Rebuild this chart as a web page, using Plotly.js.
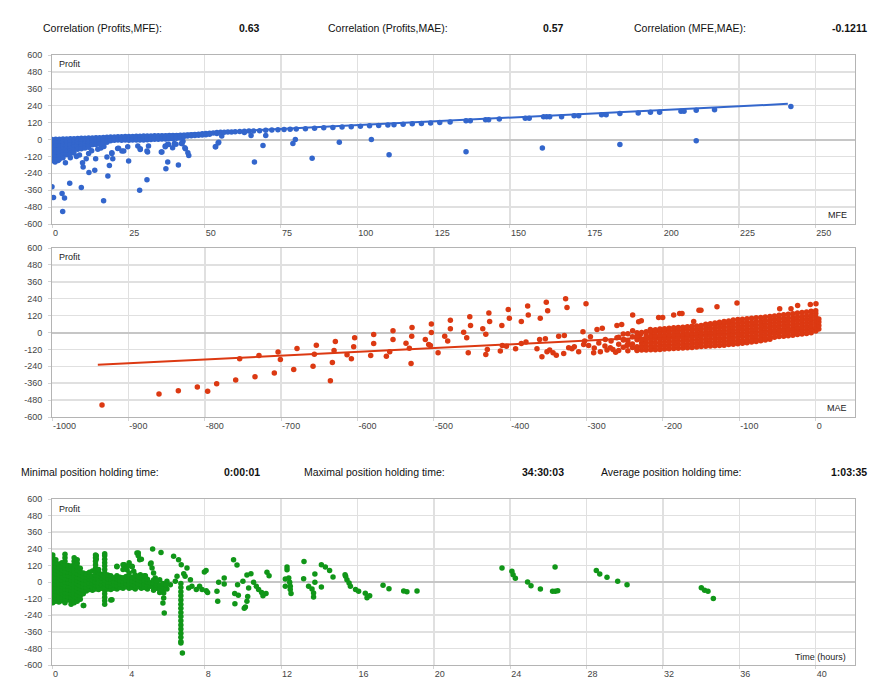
<!DOCTYPE html>
<html>
<head>
<meta charset="utf-8">
<script src="https://cdn.plot.ly/plotly-3.0.1.min.js"></script>
<style>
  html, body { margin: 0; padding: 0; background: #fff; }
  #chart { width: 883px; height: 697px; }
</style>
</head>
<body>
<div id="chart"></div>
<script>
// ---- axis ticks (labels use a plain hyphen like the source) ----
var profitTicks = [-600, -480, -360, -240, -120, 0, 120, 240, 360, 480, 600];
var profitTickText = ['-600', '-480', '-360', '-240', '-120', '0', '120', '240', '360', '480', '600'];
var mfeTicks = [0, 25, 50, 75, 100, 125, 150, 175, 200, 225, 250];
var maeTicks = [-1000, -900, -800, -700, -600, -500, -400, -300, -200, -100, 0];
var maeTickText = ['-1000', '-900', '-800', '-700', '-600', '-500', '-400', '-300', '-200', '-100', '0'];
var timeTicks = [0, 4, 8, 12, 16, 20, 24, 28, 32, 36, 40];

// ---- MFE vs Profit (top panel) ----
// dense cluster near the origin, read column by column: [MFE, [profits]]
var mfeBand = [
  [0, [0, -25, -50, -75, -100, -125, -150]],
  [1.2, [2, -22, -48, -72, -98, -122, -145]],
  [2.4, [2, -20, -45, -70, -95, -118, -140]],
  [3.6, [3, -20, -42, -65, -88, -112, -130]],
  [4.8, [4, -18, -40, -62, -85, -108]],
  [6, [5, -16, -38, -60, -80, -100]],
  [7.2, [6, -15, -35, -55, -75, -95]],
  [8.4, [7, -14, -34, -52, -70]],
  [9.6, [8, -12, -30, -48, -66]],
  [10.8, [9, -10, -28, -45, -60]],
  [12, [10, -8, -25, -42, -55]],
  [13.2, [11, -6, -22, -38]],
  [14.4, [12, -5, -20, -35]],
  [15.6, [13, -3, -18, -30]],
  [16.8, [14, -2, -15, -26]],
  [18, [16, 0, -12, -20]],
  [19.2, [17, 2, -8]],
  [20.4, [18, 4, -5]],
  [21.6, [19, 6, -4]],
  [22.8, [20, 8, -5]],
  [24, [21, 8, -4]],
  [25.2, [22, 9, -5]],
  [26.4, [22, 9, -4]],
  [27.6, [23, 10, -3]],
  [28.8, [23, 10, -4]],
  [30, [24, 11, -3]],
  [31.2, [25, 12, -1]],
  [32.4, [25, 13, 0]],
  [33.6, [26, 14, 1]],
  [34.8, [26, 14, 2]],
  [36, [27, 15, 3]],
  [37.2, [27, 16, 4]],
  [38.4, [28, 17, 5]],
  [39.6, [28, 17, 6]],
  [40.8, [29, 18, 8]],
  [42, [30, 20, 10]],
  [43.2, [31, 22]],
  [44.4, [32, 24]],
  [45.6, [34, 26]],
  [46.8, [36, 28]],
  [48, [38, 30]],
  [49.2, [40, 32]],
  [50.4, [42, 34]],
  [51.6, [44, 37]],
  [52.8, [47]],
  [54, [49, 42]],
  [55.2, [51]],
  [56.4, [52]],
  [57.6, [53]],
  [58.8, [54]],
  [60, [55]],
  [61.5, [57]],
  [63, [58, 50]],
  [64.5, [60]],
  [66, [61]],
  [68, [63]],
  [70, [65]],
  [72, [67]],
  [74, [69]],
  [76, [71]],
  [78, [73]],
  [80, [74]],
  [83, [77]],
  [86, [80]],
  [89, [83]],
  [92, [86]],
  [95, [89]],
  [98, [91]],
  [101, [94]],
  [104, [97]],
  [107, [100]],
  [110, [103]],
  [112, [105]],
  [115, [108]],
  [118, [111]],
  [121, [114]],
  [124, [117]],
  [127, [120]]
];
var mfeX = [0, 0.5, 3.3, 4.1, 3.5, 5.8, 9.6, 4.4, 10, 10.2, 12.1, 14, 14.3, 11.2, 16.9, 18.3, 18.8, 18, 19.9, 19.6,
  21.5, 23.5, 25.1, 28.7, 31.1, 28.9, 31.3, 35.8, 37.3, 37.9, 41.4, 37.1, 37.9, 39.5, 40.6, 42.6, 43.7, 44.8, 42.9,
  53.6, 54.6, 55.6, 66.3, 69.1, 70, 65.2, 78.9, 79.7, 85.2, 94.1, 104.6, 110.4,
  19.6, 21.8, 22.9, 24.8, 28.1, 28.9, 31.1, 31.6, 36, 37.1, 38.2, 40.1, 42.4, 43.5, 44.5, 53.5, 54.4,
  1, 2, 6, 8, 9, 12, 13, 15, 16, 17,
  130.4, 135.6, 137, 142, 143, 146.5, 155, 156.3, 161, 162, 163, 166.9, 171, 172.5, 180, 181.5, 186, 192,
  196, 199, 206, 207, 211, 217, 242,
  135.6, 160.6, 186, 211];
var mfeProfit = [-336, -412, -384, -416, -511, -311, -341, -165, -165, -195, -235, -219, -136, -136, -435, -259, -184, -125, -136, -99,
  -64, -82, -153, -360, -285, -71, -89, -89, -207, -160, -181, -47, -33, -59, -33, -28, -66, -113, -12,
  -52, -19, 24, -160, -42, 28, 28, -28, 0, -134, -19, 0, -108,
  -94, -63, -82, -52, -47, -66, -82, -47, -89, -52, -35, -28, -28, -59, -94, -52, -24,
  -160, -150, -130, -120, -110, -100, -80, -70, -60, -50,
  125, 134, 134, 141, 141, 146, 150, 150, 162, 162, 162, 162, 169, 169, 176, 176, 184, 188,
  193, 193, 200, 200, 207, 212, 235,
  -87, -61, -35, -9];
var mfeTrendX = [0, 241];
var mfeTrendY = [-5, 253];

// ---- MAE vs Profit (middle panel) ----
var maeBand = [
  [-258, [-128, -83, -33]],
  [-252, [-104, -54, -10]],
  [-246, [-130, -85, -60, -8]],
  [-240, [-106, -81, -31]],
  [-234, [-127, -102, -52, -27, -2]],
  [-228, [-125, -100, -75, -50, 0]],
  [-222, [-124, -100, -75, -50, -25, 5]],
  [-216, [-123, -98, -73, -48, -23, 2, 14]],
  [-210, [-122, -97, -72, -47, -22, 3, 20]],
  [-204, [-120, -95, -70, -45, -20, 5, 24]],
  [-198, [-118, -93, -68, -43, -18, 7, 27]],
  [-192, [-116, -91, -66, -41, -16, 9, 30]],
  [-186, [-114, -89, -64, -39, -14, 11, 33]],
  [-180, [-112, -87, -62, -37, -12, 13, 36]],
  [-174, [-110, -85, -60, -35, -10, 15, 38]],
  [-168, [-108, -83, -58, -33, -8, 17, 41]],
  [-162, [-106, -81, -56, -31, -6, 19, 44]],
  [-156, [-103, -78, -53, -28, -3, 22, 47]],
  [-150, [-100, -75, -50, -25, 0, 25, 50]],
  [-144, [-98, -73, -48, -23, 2, 27, 52, 58]],
  [-138, [-96, -71, -46, -21, 4, 29, 54, 62]],
  [-132, [-94, -69, -44, -19, 6, 31, 56, 68]],
  [-126, [-92, -67, -42, -17, 8, 33, 58, 73]],
  [-120, [-90, -65, -40, -15, 10, 35, 60, 78]],
  [-114, [-86, -63, -38, -13, 12, 37, 62, 82]],
  [-108, [-84, -61, -36, -11, 14, 39, 64, 88]],
  [-102, [-80, -59, -34, -9, 16, 41, 66, 92]],
  [-96, [-76, -56, -31, -6, 19, 44, 69, 94]],
  [-90, [-72, -54, -29, -4, 21, 46, 71, 98]],
  [-84, [-68, -52, -27, -2, 23, 48, 73, 101]],
  [-78, [-64, -49, -24, 1, 26, 51, 76, 104]],
  [-72, [-58, -45, -20, 5, 30, 55, 80, 106]],
  [-66, [-54, -42, -17, 8, 33, 58, 83, 110]],
  [-60, [-48, -38, -13, 12, 37, 62, 87, 114]],
  [-54, [-33, -8, 17, 42, 67, 92, 118]],
  [-48, [-29, -4, 21, 46, 71, 96, 122]],
  [-42, [-26, -1, 24, 49, 74, 99, 126]],
  [-36, [-23, 2, 27, 52, 77, 102, 130]],
  [-30, [-20, 5, 30, 55, 80, 105, 134]],
  [-24, [-15, 10, 35, 60, 85, 110, 138]],
  [-18, [-11, 14, 39, 64, 89, 114, 142]],
  [-12, [-7, 18, 43, 68, 93, 118, 146]],
  [-6, [-2, 23, 48, 73, 98, 123, 150]],
  [0, [10, 35, 60, 85, 110, 135, 155]],
  [4, [25, 50, 75, 95]]
];
var maeX = [-934.5, -859.9, -834.6, -809.7, -796.2, -784.4, -759.5, -754.3, -734.2, -729, -708.9, -704, -701,
  -683.5, -679.2, -658.2, -656.5, -653.9, -635.5, -632.9, -630.7, -629, -613.7, -608, -605, -603.7,
  -582.7, -578.8, -578.8, -562.2, -557.8, -553.5, -553.5, -536.5, -532.1, -529.9, -529, -528.6,
  -511.2, -506.8, -504.6, -503.3, -503.3, -494.5, -485.8, -481.9, -478.4, -478.4,
  -461, -457, -455, -453, -452, -436, -432, -432, -430, -428, -427, -411, -413, -410.4, -405, -402.6, -401.2,
  -393, -385.5, -385.5, -379.4, -377.2, -376.4, -365, -361.5, -360.7, -358.5, -354, -352.8, -351, -351.9,
  -348.4, -344, -339.7, -336.6, -330, -329.2, -327.5, -325.7, -323.5, -319.2, -316.1, -310.4, -304.8, -303.9,
  -300.8, -302.6, -297.4, -290.8, -286.4, -279.5, -282, -275.5, -273.3, -269, -265.5, -260.3, -260.3,
  -254.1, -251.5, -247.2, -239.7, -239.7, -234, -231.9, -228.4, -229.7, -223.2, -216.6, -212.2,
  -205.7, -200.4, -203.5, -186, -178.2, -175.1, -159.8, -152.9, -150.3, -129.3, -103.1, -47.2, -32.4, -23.7, -7.1, 0.3,
  -290, -284, -276, -268, -262, -295];
var maeProfit = [-515, -437, -413, -387, -418, -364, -338, -187, -314, -163, -288, -139, -191,
  -262, -113, -239, -154, -90, -342, -213, -128, -64, -158, -187, -102, -38,
  -163, -78, -14, -168, -137, -50, 12, -76, -111, -220, -26, 35,
  -50, -85, -92, 0, 61, -144, -26, -61, 87, 26,
  2, -38, -144, 111, 50, 26, -12, -156, -120, 139, 78, 50, -132, -92, -97, 163, 102,
  -116, 78, -78, -68, 189, 125, -116, -50, 102, -172, -45, 215, 154, -137,
  -125, -144, -161, -26, -149, -21, 239, 177, -109, -116, -102, -137, 5, -85,
  205, -61, -92, -144, 21, 31, -137, -50, -125, -109, -120, 50, -38,
  57, -50, -92, 125, 12, -120, 76, 83, -14, -54, 21, -109,
  106, 106, -38, 125, 135, 135, 78, 158, 158, 182, 210, 168, 168, 191, 198, 205,
  -110, -75, -95, -60, -140, -30];
var maeTrendX = [-940, 0];
var maeTrendY = [-229, 24];

// ---- Holding time (hours) vs Profit (bottom panel) ----
var timeBand = [
  [0.04, [-150, -125, -100, -75, -50, -25, 0, 25, 50, 75, 100, 125, 150, 175, 195]],
  [0.2, [-140, -115, -90, -65, -40, -15, 10, 35, 60, 85, 110, 135, 160]],
  [0.36, [-145, -120, -95, -70, -45, -20, 5, 30, 55, 80, 105, 130]],
  [0.52, [-135, -110, -85, -60, -35, -10, 15, 40, 65, 90, 115, 140]],
  [0.68, [-150, -125, -100, -75, -50, -25, 0, 25, 50, 75, 100, 125, 150, 175, 200]],
  [0.84, [-130, -105, -80, -55, -30, -5, 20, 45, 70, 95, 120]],
  [1.0, [-160, -135, -110, -85, -60, -35, -10, 15, 40, 65, 90, 115]],
  [1.16, [-150, -125, -100, -75, -50, -25, 0, 25, 50, 75, 100, 125, 150, 175]],
  [1.32, [-140, -115, -90, -65, -40, -15, 10, 35, 60, 85, 110, 135, 160]],
  [1.48, [-125, -100, -75, -50, -25, 0, 25, 50, 75, 100]],
  [1.64, [-170, -85, -60, -35, -10, 15, 40, 65]],
  [1.8, [-65, -40, -15, 10, 35, 60]],
  [1.96, [-55, -30, -5, 20, 45, 70]],
  [2.12, [-60, -35, -10, 15, 40, 80]],
  [2.28, [-50, -25, 0, 25, 50, 75, 100, 125, 150, 175, 195]],
  [2.44, [-55, -30, -5, 20, 45, 70, 90]],
  [2.6, [-45, -20, 5, 30, 55]],
  [2.76, [-160, -135, -110, -85, -60, -35, -10, 15, 40, 65, 90, 115, 140, 165, 190, 205]],
  [2.92, [-50, -25, 0, 25, 50]],
  [3.08, [-55, -30, -5, 20, 45, -130]],
  [3.24, [-45, -20, 5, 30]],
  [3.4, [-50, -25, 0, 25, 45, 110]],
  [3.56, [-40, -15, 10, 35]],
  [3.72, [-45, -20, 5, 30, 90, 125]],
  [3.88, [-35, -10, 15, 40, 100]],
  [4.04, [-45, -20, 5, 30, 65, 140, 120]],
  [4.2, [-40, -15, 10, 35, 110]],
  [4.36, [-50, -25, 0, 25, 50]],
  [4.52, [-35, -10, 15, 40, 210, 190]],
  [4.68, [-45, -20, 5, 30, 165]],
  [4.84, [-40, -15, 10, 45]],
  [5.0, [-50, -25, 0, 20]],
  [5.16, [-30, -5, 130]],
  [5.32, [-60, -35, -10, 15]],
  [5.48, [-45, -20, 5]],
  [5.64, [-75, -50, -25]],
  [5.8, [-60, -35, -10]],
  [5.96, [-45, -20]],
  [6.75, [-10, -40, -70, -100, -130, -160, -190, -220, -250, -280, -310, -340, -370, -400, -430, -441]]
];
var timeX = [23.57, 24.09, 24.15, 24.27, 24.91, 25.09, 25.58, 26.22, 26.36, 26.49, 26.35, 28.51, 28.69, 29.07, 29.63, 30.12,
  34.01, 34.18, 34.36, 34.64,
  19.12, 18.59, 18.42, 17.65, 17.34, 16.64, 16.5, 16.41, 16.06, 15.9, 15.63, 15.56, 15.45, 15.38, 15.35,
  14.72, 14.54, 14.32, 14.11, 14.11, 13.77, 13.77, 13.7, 13.7, 13.62, 13.44, 13.2, 13.18,
  12.48, 12.48, 12.52, 12.45, 12.4, 12.31, 12.31, 12.22, 12.22,
  11.26, 11.37, 11.21, 11.05, 10.98, 10.82, 10.7, 10.56, 10.42, 10.21, 10.3, 10.21, 10.13, 10.07, 10, 10.25,
  9.76, 9.72, 9.69, 9.57, 9.58, 9.51, 9.02, 9.02, 8.73, 8.64, 8.68,
  8.07, 7.98, 8.08, 8.15, 7.86, 7.73, 7.56, 7.33, 7.25, 7.16, 7.07, 6.97, 6.9, 6.77, 6.63, 6.37, 6.83,
  6.55, 6.46, 6.2, 6.02, 5.85, 5.88, 5.81, 5.85, 5.71, 5.27, 5.19, 5.24, 5.32, 5.41, 5.5, 5.59, 5.64, 6.02,
  4.45, 4.59, 4.63, 4.89, 3.93, 3.79, 4.19, 4.28, 3.4, 2.32, 2.32, 1.66, 3.14];
var timeProfit = [101, 77, 53, 27, 0, -27, -51, -67, -67, -63, 108, 84, 58, 34, 5, -19,
  -41, -60, -67, -120,
  -65, -70, -65, -48, -24, -99, -113, -82, -67, -55, -31, -7, 17, 41, 53,
  36, 84, 108, 125, -36, 58, -2, -80, -108, -51, -31, 149, 24,
  -31, -55, -84, -2, 29, 89, 108, -31, 22,
  70, 46, -84, -99, -75, -55, -31, -2, 60, 51, -43, -140, -181, -190, 5, -104,
  -96, -19, 123, -84, -157, 161, -14, 29, -2, -67, -140,
  84, 72, -63, -75, -55, -31, -55, -31, 17, -43, 101, 41, 60, 125, 161, 186, -513,
  41, 5, -19, -51, -80, -224, -152, -116, 214, 239, 137, 101, 65, 29, -7, -43, 17, 5,
  210, 161, 53, 46, 89, 125, 113, 77, 113, 190, 166, -169, -128];

var BLUE = '#3366cc', RED = '#dc3912', GREEN = '#109618';

function expand(cols, xs, ys) {
  var x = xs.slice(), y = ys.slice();
  cols.forEach(function(c) {
    c[1].forEach(function(v) { x.push(c[0]); y.push(v); });
  });
  return {x: x, y: y};
}

var p1 = expand(mfeBand, mfeX, mfeProfit);
var p2 = expand(maeBand, maeX, maeProfit);
var p3 = expand(timeBand, timeX, timeProfit);

function dots(p, color, xa, ya) {
  return {x: p.x, y: p.y, xaxis: xa, yaxis: ya, type: 'scatter', mode: 'markers',
          marker: {color: color, size: 5.5}, hoverinfo: 'skip'};
}
function trend(x, y, color, xa, ya) {
  return {x: x, y: y, xaxis: xa, yaxis: ya, type: 'scatter', mode: 'lines',
          line: {color: color, width: 2}, hoverinfo: 'skip'};
}

var traces = [
  trend(mfeTrendX, mfeTrendY, BLUE, 'x', 'y'),
  dots(p1, BLUE, 'x', 'y'),
  trend(maeTrendX, maeTrendY, RED, 'x2', 'y2'),
  dots(p2, RED, 'x2', 'y2'),
  dots(p3, GREEN, 'x3', 'y3')
];

var W = 883, H = 697;
function px(x) { return x / W; }
function py(y) { return 1 - y / H; }

var base = {showline: true, mirror: true, linecolor: '#b4b4b4', linewidth: 1,
  showgrid: true, gridcolor: '#e0e0e0', gridwidth: 1.5, zeroline: false,
  ticks: 'outside', ticklen: 3, tickcolor: '#d4d4d4',
  tickfont: {size: 9, color: '#444'}, fixedrange: true};
function xAxis(range, vals, text, anchor) {
  return Object.assign({}, base, {domain: [px(52), px(855)], range: range,
    tickmode: 'array', tickvals: vals, ticktext: text,
    anchor: anchor, ticklabelposition: 'outside right'});
}
function yAxis(top, bottom, anchor) {
  return Object.assign({}, base, {domain: [py(bottom), py(top)], range: [-600, 600],
    tickmode: 'array', tickvals: profitTicks, ticktext: profitTickText,
    anchor: anchor, zeroline: true, zerolinecolor: '#c6c6c6', zerolinewidth: 2, ticklabelstandoff: 4});
}

function note(text, x, y, anchor, opts) {
  return Object.assign({text: text, x: px(x), y: py(y), xref: 'paper', yref: 'paper',
    xanchor: anchor, yanchor: 'middle', showarrow: false, borderpad: 0,
    font: {size: 10.5, color: '#111'}}, opts || {});
}
var small = {font: {size: 9, color: '#222'}};

var annotations = [
  note('Correlation (Profits,MFE):', 42, 28, 'left'),
  note('<b>0.63</b>', 261, 28, 'right'),
  note('Correlation (Profits,MAE):', 327, 28, 'left'),
  note('<b>0.57</b>', 565, 28, 'right'),
  note('Correlation (MFE,MAE):', 633, 28, 'left'),
  note('<b>-0.1211</b>', 868, 28, 'right'),
  note('Minimal position holding time:', 20, 472, 'left'),
  note('<b>0:00:01</b>', 261, 472, 'right'),
  note('Maximal position holding time:', 303, 472, 'left'),
  note('<b>34:30:03</b>', 565, 472, 'right'),
  note('Average position holding time:', 600, 472, 'left'),
  note('<b>1:03:35</b>', 868, 472, 'right'),
  note('Profit', 58, 64, 'left', small),
  note('MFE', 848, 215, 'right', small),
  note('Profit', 58, 257, 'left', small),
  note('MAE', 848, 408, 'right', small),
  note('Profit', 58, 509, 'left', small),
  note('Time (hours)', 847, 657, 'right', small)
];

var layout = {
  width: W, height: H,
  margin: {l: 0, r: 0, t: 0, b: 0},
  paper_bgcolor: '#fff', plot_bgcolor: '#fff',
  font: {family: 'Liberation Sans, Arial, sans-serif'},
  showlegend: false,
  xaxis: xAxis([0, 263], mfeTicks, mfeTicks.map(String), 'y'),
  yaxis: yAxis(55, 224, 'x'),
  xaxis2: xAxis([-1000, 51.4], maeTicks, maeTickText, 'y2'),
  yaxis2: yAxis(248, 417, 'x2'),
  xaxis3: xAxis([0, 42.06], timeTicks, timeTicks.map(String), 'y3'),
  yaxis3: yAxis(499, 665, 'x3'),
  annotations: annotations
};

Plotly.newPlot('chart', traces, layout, {staticPlot: true});
</script>
</body>
</html>
